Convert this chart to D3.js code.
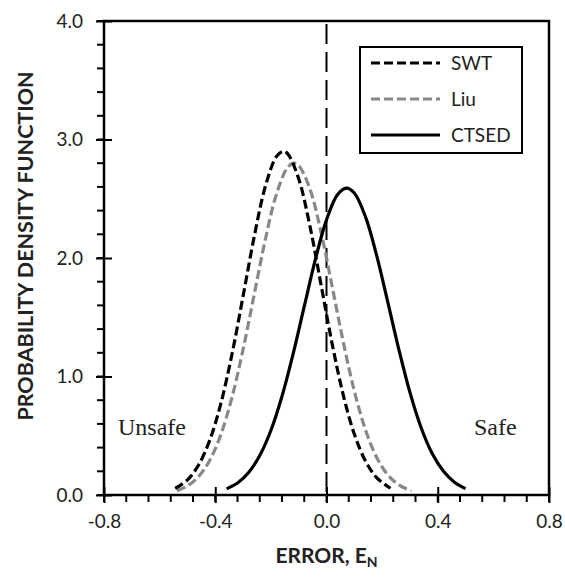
<!DOCTYPE html>
<html><head><meta charset="utf-8">
<script src="https://cdn.jsdelivr.net/npm/d3@7"></script>
<style>body{margin:0;background:#fff}svg{display:block}</style>
</head><body>
<svg id="c" width="565" height="577"></svg>
<script>
const xTicks = [-0.8, -0.4, 0.0, 0.4, 0.8];
const xTickLabels = ["-0.8", "-0.4", "0.0", "0.4", "0.8"];
const yTicks = [0, 1, 2, 3, 4];
const yTickLabels = ["0.0", "1.0", "2.0", "3.0", "4.0"];
const seriesNames = ["SWT", "Liu", "CTSED"];
const swtX = [-0.544,-0.50,-0.46,-0.42,-0.38,-0.34,-0.30,-0.26,-0.22,-0.18,-0.156,-0.14,-0.10,-0.06,-0.02,0.02,0.06,0.10,0.14,0.18,0.23];
const swtY = [0.055,0.127,0.253,0.461,0.771,1.186,1.677,2.179,2.603,2.856,2.90,2.881,2.669,2.274,1.779,1.280,0.846,0.514,0.287,0.147,0.057];
const liuX = [-0.538,-0.50,-0.46,-0.42,-0.38,-0.34,-0.30,-0.26,-0.22,-0.18,-0.14,-0.117,-0.10,-0.06,-0.02,0.02,0.06,0.10,0.14,0.18,0.22,0.26,0.305];
const liuY = [0.036,0.076,0.155,0.292,0.510,0.823,1.228,1.692,2.156,2.539,2.764,2.80,2.780,2.585,2.221,1.764,1.294,0.878,0.551,0.319,0.171,0.085,0.035];
const ctsX = [-0.359,-0.32,-0.28,-0.24,-0.20,-0.16,-0.12,-0.08,-0.04,0.00,0.04,0.072,0.10,0.14,0.18,0.22,0.26,0.30,0.34,0.38,0.42,0.46,0.50];
const ctsY = [0.052,0.101,0.190,0.333,0.544,0.833,1.191,1.591,1.988,2.322,2.535,2.59,2.548,2.349,2.025,1.632,1.229,0.866,0.570,0.350,0.202,0.108,0.054];

const svg = d3.select("#c");
const L = 104, R = 549, T = 21, B = 495;
const x = d3.scaleLinear().domain([-0.8, 0.8]).range([L, R]);
const y = d3.scaleLinear().domain([0, 4]).range([B, T]);
const font = "Lato, 'Open Sans', sans-serif";

// minor ticks
const xMinor = d3.range(0, 21).map(i => -0.8 + i * 0.08);
svg.append("g").selectAll("line").data(xMinor).join("line")
  .attr("x1", d => x(d)).attr("x2", d => x(d)).attr("y1", B).attr("y2", B + 7)
  .attr("stroke", "#000").attr("stroke-width", 2);
const yMinor = d3.range(0, 21).map(i => i * 0.2);
svg.append("g").selectAll("line").data(yMinor).join("line")
  .attr("x1", L - 7).attr("x2", L).attr("y1", d => y(d)).attr("y2", d => y(d))
  .attr("stroke", "#000").attr("stroke-width", 2);

// axes with crossing major ticks
const xAxis = svg.append("g").attr("transform", `translate(0,${B})`)
  .call(d3.axisBottom(x).tickValues(xTicks).tickFormat((d, i) => xTickLabels[i]).tickSizeInner(8).tickSizeOuter(0).tickPadding(12));
xAxis.selectAll(".tick line").attr("y1", -8).attr("y2", 8).attr("stroke-width", 2);
xAxis.select(".domain").remove();
xAxis.selectAll("text").attr("font-family", font).attr("font-size", 19).attr("fill", "#222");

const yAxis = svg.append("g").attr("transform", `translate(${L},0)`)
  .call(d3.axisLeft(y).tickValues(yTicks).tickFormat((d, i) => yTickLabels[i]).tickSizeInner(8).tickSizeOuter(0).tickPadding(13));
yAxis.selectAll(".tick line").attr("x1", -8).attr("x2", 8).attr("stroke-width", 2);
yAxis.select(".domain").remove();
yAxis.selectAll("text").attr("font-family", font).attr("font-size", 19).attr("fill", "#222");

// frame
svg.append("rect").attr("x", L).attr("y", T).attr("width", R - L).attr("height", B - T)
  .attr("fill", "none").attr("stroke", "#000").attr("stroke-width", 2.5);

// zero line
svg.append("line").attr("x1", x(0)).attr("x2", x(0)).attr("y1", T).attr("y2", B)
  .attr("stroke", "#000").attr("stroke-width", 2).attr("stroke-dasharray", "20,8").attr("stroke-dashoffset", -3);

const line = d3.line().x(d => x(d[0])).y(d => y(d[1])).curve(d3.curveCatmullRom);
const styles = [
  {stroke: "#000", dash: "9,4"},
  {stroke: "#888", dash: "9,4"},
  {stroke: "#000", dash: null}
];
const data = [d3.zip(swtX, swtY), d3.zip(liuX, liuY), d3.zip(ctsX, ctsY)];
[1, 0, 2].forEach(i => {
  svg.append("path").datum(data[i]).attr("d", line).attr("fill", "none")
    .attr("stroke", styles[i].stroke).attr("stroke-width", 3.2)
    .attr("stroke-dasharray", styles[i].dash);
});

// legend
const lg = svg.append("g");
lg.append("rect").attr("x", 360).attr("y", 47).attr("width", 162).attr("height", 106)
  .attr("fill", "#fff").attr("stroke", "#000").attr("stroke-width", 2);
const ly = [63, 99, 135];
seriesNames.forEach((n, i) => {
  lg.append("line").attr("x1", 371).attr("x2", 440).attr("y1", ly[i]).attr("y2", ly[i])
    .attr("stroke", styles[i].stroke).attr("stroke-width", 3.2).attr("stroke-dasharray", styles[i].dash);
  lg.append("text").attr("x", 451).attr("y", ly[i]).attr("dy", "0.35em")
    .attr("font-family", font).attr("font-size", 19).attr("fill", "#222").text(n);
});

// annotations
const serif = "'Liberation Serif', 'Times New Roman', serif";
svg.append("text").attr("x", 118).attr("y", 435).attr("font-family", serif)
  .attr("font-size", 24).attr("fill", "#222").text("Unsafe");
svg.append("text").attr("x", 474).attr("y", 435).attr("font-family", serif)
  .attr("font-size", 24).attr("fill", "#222").text("Safe");

// axis titles
const xt = svg.append("text").attr("x", x(0)).attr("y", 563).attr("text-anchor", "middle")
  .attr("font-family", font).attr("font-weight", "bold").attr("font-size", 21).attr("fill", "#222");
xt.append("tspan").text("ERROR, E");
xt.append("tspan").attr("font-size", 14).attr("dy", 4).text("N");

svg.append("text").attr("transform", `translate(33,246) rotate(-90)`).attr("text-anchor", "middle")
  .attr("font-family", font).attr("font-weight", "bold").attr("font-size", 21.5).attr("fill", "#222")
  .text("PROBABILITY DENSITY FUNCTION");
</script>
</body></html>
